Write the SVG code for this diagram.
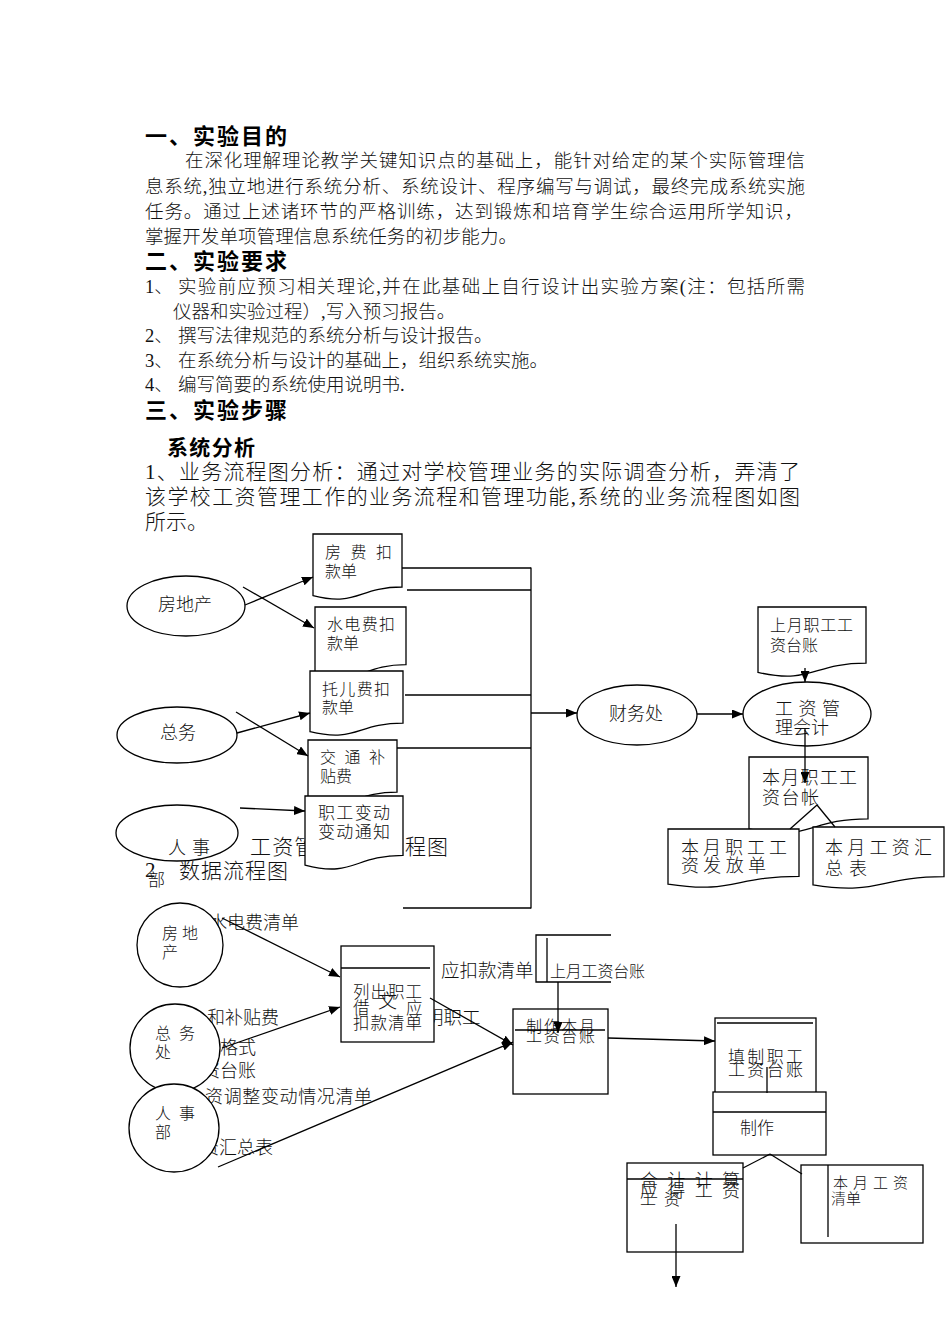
<svg xmlns="http://www.w3.org/2000/svg" width="950" height="1344" viewBox="0 0 950 1344">
<defs>
<style>
.t{font-family:"Liberation Serif","Noto Sans CJK SC",serif;font-weight:300;fill:#111}
.h{font-family:"Noto Sans CJK SC","Liberation Sans",sans-serif;font-weight:bold;fill:#000}
.s{fill:#fff;stroke:#000;stroke-width:1.3}
.c{fill:none;stroke:#000;stroke-width:1.3}
.f16{font-size:16px}.f17{font-size:17px}.f18{font-size:18px}.f15{font-size:15px}.f19{font-size:19px}.f21{font-size:21px}
</style>
<marker id="ah" markerUnits="userSpaceOnUse" markerWidth="11" markerHeight="9" refX="11" refY="4.5" orient="auto">
<path d="M0,0 L11,4.5 L0,9 Z" fill="#000"/>
</marker>
</defs>
<rect width="950" height="1344" fill="#fff"/>

<g id="text-body">
<text class="h" x="145" y="144" font-size="22" textLength="142" lengthAdjust="spacing">一、实验目的</text>
<text class="t" x="185" y="167" font-size="18.5" textLength="620" lengthAdjust="spacing">在深化理解理论教学关键知识点的基础上，能针对给定的某个实际管理信</text>
<text class="t" x="145" y="193" font-size="18.5" textLength="660" lengthAdjust="spacing">息系统,独立地进行系统分析、系统设计、程序编写与调试，最终完成系统实施</text>
<text class="t" x="145" y="218" font-size="18.5" textLength="658" lengthAdjust="spacing">任务。通过上述诸环节的严格训练，达到锻炼和培育学生综合运用所学知识，</text>
<text class="t" x="145" y="243" font-size="18.5" textLength="372" lengthAdjust="spacing">掌握开发单项管理信息系统任务的初步能力。</text>
<text class="h" x="145" y="269" font-size="22" textLength="142" lengthAdjust="spacing">二、实验要求</text>
<text class="t" x="145" y="293" font-size="18.5">1、</text>
<text class="t" x="178" y="293" font-size="18.5" textLength="627" lengthAdjust="spacing">实验前应预习相关理论,并在此基础上自行设计出实验方案(注：包括所需</text>
<text class="t" x="173" y="318" font-size="18.5">仪器和实验过程）,写入预习报告。</text>
<text class="t" x="145" y="342" font-size="18.5">2、</text>
<text class="t" x="178" y="342" font-size="18.5">撰写法律规范的系统分析与设计报告。</text>
<text class="t" x="145" y="367" font-size="18.5">3、</text>
<text class="t" x="178" y="367" font-size="18.5">在系统分析与设计的基础上，组织系统实施。</text>
<text class="t" x="145" y="391" font-size="18.5">4、</text>
<text class="t" x="178" y="391" font-size="18.5">编写简要的系统使用说明书.</text>
<text class="h" x="145" y="418" font-size="22" textLength="142" lengthAdjust="spacing">三、实验步骤</text>
<text class="h" x="167" y="455" font-size="21" textLength="88" lengthAdjust="spacing">系统分析</text>
<text class="t f21" x="145" y="479" textLength="655" lengthAdjust="spacing">1、业务流程图分析：通过对学校管理业务的实际调查分析，弄清了</text>
<text class="t f21" x="145" y="504" textLength="655" lengthAdjust="spacing">该学校工资管理工作的业务流程和管理功能,系统的业务流程图如图</text>
<text class="t f21" x="145" y="529">所示。</text>
<text class="t f21" x="250" y="854" textLength="198" lengthAdjust="spacing">工资管理业务流程图</text>
<text class="t f21" x="145" y="877">2</text>
<text class="t f21" x="179" y="878" textLength="109" lengthAdjust="spacing">数据流程图</text>
</g>

<g id="dfd-labels">
<text class="t f18" x="209" y="929">水电费清单</text>
<text class="t f18" x="207" y="1024">和补贴费</text>
<text class="t f18" x="220" y="1054">格式</text>
<text class="t f18" x="202" y="1077">资台账</text>
<text class="t f18" x="205" y="1103" textLength="167" lengthAdjust="spacing">资调整变动情况清单</text>
<text class="t f18" x="201" y="1154">资汇总表</text>
<text class="t" x="441" y="977" font-size="18.5">应扣款清单</text>
<text class="t" x="425" y="1024" font-size="18.5">明职工</text>
</g>

<g id="flow-fangdichan">
<ellipse class="s" cx="186" cy="606" rx="59" ry="30"/>
<text class="t f18" x="185" y="611" text-anchor="middle">房地产</text>
</g>
<g id="flow-zongwu">
<ellipse class="s" cx="177" cy="735" rx="60" ry="28"/>
<text class="t f18" x="178" y="739" text-anchor="middle">总务</text>
</g>
<g id="flow-renshi">
<ellipse class="s" cx="177" cy="833" rx="61" ry="28"/>
<text class="t f18" x="168" y="854" textLength="42" lengthAdjust="spacing">人 事</text>
<text class="t f17" x="148" y="886">部</text>
</g>

<g id="doc-fangfei">
<path class="s" d="M313,534 H402 V587 C357.5,587 357.5,607 313,595.6 Z"/>
<text class="t f16" x="325" y="558" textLength="67" lengthAdjust="spacing">房 费 扣</text>
<text class="t f16" x="325" y="577">款单</text>
</g>
<g id="doc-shuidian">
<path class="s" d="M315,607 H406 V664.7 C360.5,664.7 360.5,686.7 315,674.2 Z"/>
<text class="t f16" x="327" y="630" textLength="68" lengthAdjust="spacing">水电费扣</text>
<text class="t f16" x="327" y="649">款单</text>
</g>
<g id="doc-tuoer">
<path class="s" d="M310,671 H403 V723.1 C356.5,723.1 356.5,743 310,731.7 Z"/>
<text class="t f16" x="322" y="695" textLength="68" lengthAdjust="spacing">托儿费扣</text>
<text class="t f16" x="322" y="713">款单</text>
</g>
<g id="doc-jiaotong">
<path class="s" d="M308,740 H397 V792.1 C352.5,792.1 352.5,812 308,800.7 Z"/>
<text class="t f16" x="320" y="763" textLength="65" lengthAdjust="spacing">交 通 补</text>
<text class="t f16" x="320" y="782">贴费</text>
</g>
<g id="doc-zhigong">
<path class="s" d="M305,796 H403 V855.3 C354,855.3 354,877.9 305,865.1 Z"/>
<text class="t f17" x="318" y="819" textLength="72" lengthAdjust="spacing">职工变动</text>
<text class="t f17" x="318" y="838" textLength="72" lengthAdjust="spacing">变动通知</text>
</g>

<g id="flow-caiwu">
<ellipse class="s" cx="637" cy="715" rx="60" ry="30"/>
<text class="t f18" x="636" y="720" text-anchor="middle">财务处</text>
</g>
<g id="doc-shangyue">
<path class="s" d="M758,607 H866 V663.1 C812,663.1 812,684.5 758,672.4 Z"/>
<text class="t f16" x="770" y="631" textLength="83" lengthAdjust="spacing">上月职工工</text>
<text class="t f16" x="770" y="651">资台账</text>
</g>
<g id="flow-kuaiji">
<ellipse class="s" cx="807" cy="714" rx="64" ry="32"/>
<text class="t f18" x="775" y="715" textLength="65" lengthAdjust="spacing">工 资 管</text>
<text class="t f18" x="775" y="734">理会计</text>
</g>
<g id="doc-benyue-taizhang">
<path class="s" d="M749,757 H868 V818.8 C808.5,818.8 808.5,842.2 749,828.9 Z"/>
<text class="t f18" x="762" y="784" textLength="95" lengthAdjust="spacing">本月职工工</text>
<text class="t f18" x="762" y="804" textLength="57" lengthAdjust="spacing">资台帐</text>
</g>
<g id="doc-fafang">
<path class="s" d="M668,829 H799 V876.3 C733.5,876.3 733.5,894.3 668,884.1 Z"/>
<text class="t f18" x="681" y="854" textLength="106" lengthAdjust="spacing">本月职工工</text>
<text class="t f18" x="681" y="872" textLength="85" lengthAdjust="spacing">资发放单</text>
</g>
<g id="doc-huizong">
<path class="s" d="M813,827 H944 V876.7 C878.5,876.7 878.5,895.6 813,884.9 Z"/>
<text class="t f18" x="825" y="854" textLength="107" lengthAdjust="spacing">本月工资汇</text>
<text class="t f18" x="825" y="875" textLength="42" lengthAdjust="spacing">总表</text>
</g>

<g id="dfd-fangdichan">
<ellipse class="s" cx="180" cy="945" rx="43" ry="42"/>
<text class="t f16" x="162" y="939" textLength="36" lengthAdjust="spacing">房 地</text>
<text class="t f16" x="162" y="958">产</text>
</g>
<g id="dfd-zongwu">
<ellipse class="s" cx="175" cy="1048" rx="45" ry="44"/>
<text class="t f16" x="155" y="1039" textLength="40" lengthAdjust="spacing">总 务</text>
<text class="t f16" x="155" y="1058">处</text>
</g>
<g id="dfd-renshi">
<ellipse class="s" cx="174" cy="1128" rx="45" ry="44"/>
<text class="t f16" x="155" y="1119" textLength="40" lengthAdjust="spacing">人 事</text>
<text class="t f16" x="155" y="1138">部</text>
</g>

<g id="dfd-liechu">
<rect class="s" x="341" y="946" width="93" height="96"/>
<line class="c" x1="341" y1="968" x2="430" y2="968"/>
<text class="t" x="353" y="998" font-size="16.5" textLength="69" lengthAdjust="spacing">列出职工</text>
<text class="t" x="353" y="1014" font-size="16.5">借</text>
<text class="t" x="406" y="1014" font-size="16.5">应</text>
<text class="t f19" x="378" y="1008">文</text>
<text class="t" x="353" y="1029" font-size="16.5" textLength="69" lengthAdjust="spacing">扣款清单</text>
</g>
<g id="dfd-shangyue">
<path class="c" d="M611,935 H536 V982 H611"/>
<line class="c" x1="547" y1="938" x2="547" y2="982"/>
<text class="t f16" x="550" y="977" textLength="95" lengthAdjust="spacing">上月工资台账</text>
</g>
<g id="dfd-zhizuo-benyue">
<rect class="s" x="513" y="1009" width="95" height="85"/>
<text class="t f16" x="526" y="1032" textLength="69" lengthAdjust="spacing">制作本月</text>
<text class="t f16" x="526" y="1042" textLength="69" lengthAdjust="spacing">工资台账</text>
<line class="c" x1="515" y1="1030" x2="605" y2="1030"/>
</g>
<g id="dfd-tianzhi">
<rect class="s" x="715" y="1018" width="101" height="75"/>
<line class="c" x1="717" y1="1023" x2="813" y2="1023"/>
<text class="t f17" x="728" y="1063" textLength="75" lengthAdjust="spacing">填制职工</text>
<text class="t f17" x="728" y="1076" textLength="75" lengthAdjust="spacing">工资台账</text>
</g>
<g id="dfd-zhizuo">
<rect class="s" x="713" y="1092" width="113" height="63"/>
<line class="c" x1="713" y1="1112" x2="826" y2="1112"/>
<text class="t f17" x="740" y="1134">制作</text>
</g>
<g id="dfd-yingde">
<rect class="s" x="627" y="1163" width="116" height="89"/>
<text class="t f18" x="640" y="1187" textLength="100" lengthAdjust="spacing">合 计 计 算</text>
<line class="c" x1="627" y1="1179" x2="743" y2="1179"/>
<text class="t f18" x="640" y="1197" textLength="100" lengthAdjust="spacing">应 得 工 资</text>
<text class="t f16" x="640" y="1205" textLength="40" lengthAdjust="spacing">工资</text>
</g>
<g id="dfd-qingdan">
<rect class="s" x="801" y="1165" width="122" height="78"/>
<line class="c" x1="828" y1="1165" x2="828" y2="1237"/>
<text class="t f15" x="833" y="1188" textLength="75" lengthAdjust="spacing">本 月 工 资</text>
<text class="t f15" x="831" y="1204">清单</text>
</g>

<g id="connectors" class="c">
<line x1="245" y1="605" x2="313" y2="577" marker-end="url(#ah)"/>
<line x1="243" y1="587" x2="314" y2="628" marker-end="url(#ah)"/>
<line x1="237" y1="733" x2="310" y2="713" marker-end="url(#ah)"/>
<line x1="236" y1="712" x2="308" y2="756" marker-end="url(#ah)"/>
<line x1="240" y1="808" x2="305" y2="811" marker-end="url(#ah)"/>
<line x1="402" y1="568" x2="531" y2="568"/>
<line x1="407" y1="590" x2="531" y2="590"/>
<line x1="405" y1="695" x2="531" y2="695"/>
<line x1="397" y1="748" x2="531" y2="748"/>
<line x1="403" y1="908" x2="531" y2="908"/>
<line x1="531" y1="567.4" x2="531" y2="908.6"/>
<line x1="531" y1="713" x2="577" y2="713" marker-end="url(#ah)"/>
<line x1="697" y1="714" x2="743" y2="714" marker-end="url(#ah)"/>
<line x1="805" y1="668" x2="805" y2="682" marker-end="url(#ah)"/>
<line x1="805" y1="728" x2="805" y2="783" marker-end="url(#ah)"/>
<line x1="817" y1="805" x2="790" y2="829"/>
<line x1="817" y1="805" x2="835" y2="827"/>
<line x1="222" y1="918" x2="340" y2="977" marker-end="url(#ah)"/>
<line x1="222" y1="1048" x2="340" y2="1007" marker-end="url(#ah)"/>
<line x1="218" y1="1167" x2="513" y2="1042" marker-end="url(#ah)"/>
<line x1="430" y1="998" x2="513" y2="1045" marker-end="url(#ah)"/>
<line x1="558" y1="982" x2="558" y2="1033" marker-end="url(#ah)"/>
<line x1="608" y1="1038" x2="715" y2="1041" marker-end="url(#ah)"/>
<line x1="767" y1="1067" x2="767" y2="1093"/>
<line x1="770" y1="1154" x2="743" y2="1168"/>
<line x1="770" y1="1154" x2="802" y2="1174"/>
<line x1="676" y1="1224" x2="676" y2="1287" marker-end="url(#ah)"/>
</g>
</svg>
